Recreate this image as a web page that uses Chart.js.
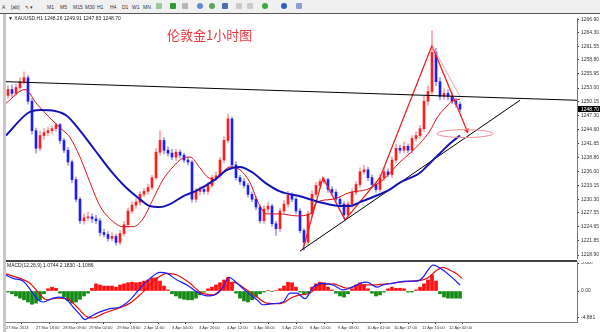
<!DOCTYPE html>
<html>
<head>
<meta charset="utf-8">
<script src="https://cdn.jsdelivr.net/npm/chart.js@4.4.1/dist/chart.umd.min.js"></script>
<style>
  html, body { margin: 0; padding: 0; background: #fff; }
  body { width: 600px; height: 332px; position: relative; overflow: hidden; font-family: "Liberation Sans", sans-serif; }
  #bar { position: absolute; left: 0; top: 0; width: 600px; height: 13px; background: #f0f0f0; border-bottom: 1px solid #555; font-size: 5px; color: #333; }
  #bar span { position: absolute; top: 4px; }
  #bar i { position: absolute; top: 3px; width: 6px; height: 6px; border-radius: 1px; }
  #frame { position: absolute; left: 3px; top: 14px; width: 3px; height: 318px; background: #c8c8c8; }
  #main { position: absolute; left: 0; top: 14px; }
  #macd { position: absolute; left: 0; top: 262px; }
  #sep { position: absolute; left: 6px; top: 260px; width: 571px; height: 2px; background: #444; }
  .txt { position: absolute; font-size: 5px; color: #222; white-space: nowrap; }
  #title { position: absolute; left: 167px; top: 25px; font-size: 13px; color: #e8383d; font-family: "Noto Sans CJK SC", sans-serif; }
</style>
</head>
<body>
<div id="bar">
  <span style="left:2px">A</span><span style="left:11px">[ab]</span><span style="left:25px">↖ ▾</span>
  <span style="left:47px">M1</span><span style="left:60px">M5</span><span style="left:73px">M15</span><span style="left:85px">M30</span>
  <span style="left:97px">H1</span><span style="left:110px">H4</span><span style="left:122px">D1</span><span style="left:132px">W1</span><span style="left:143px">MN</span>
  <i style="left:156px;background:#9bc59b"></i><i style="left:170px;background:#2e9a2e"></i><i style="left:182px;background:#b5b5b5"></i>
  <i style="left:197px;background:#5a8ad6;border-radius:3px"></i><i style="left:209px;background:#5aa35a;border-radius:3px"></i><i style="left:222px;background:#4a6fb0"></i>
  <i style="left:236px;background:#c9c9c9"></i><i style="left:247px;background:#c9c9c9"></i>
  <i style="left:262px;background:#3aa83a;border-radius:3px"></i><i style="left:281px;background:#2c5fc0;border-radius:3px"></i><i style="left:296px;background:#8aa0d0"></i>
</div>
<div id="frame"></div>
<canvas id="main" width="600" height="248"></canvas>
<canvas id="macd" width="600" height="70"></canvas>
<div id="sep"></div>
<div class="txt" style="left:8px;top:15px">▼ XAUUSD,H1 1248.26 1249.91 1247.83 1248.70</div>
<div id="title">伦敦金1小时图</div>
<div class="txt" style="left:7px;top:262px">MACD(12,26,9) 1.0744 2.1830 -1.1086</div>
<script>
// hourly gold candles, one entry per bar
const opens = [1251.5,1252.7,1251.9,1253.1,1254.3,1255.1,1250.3,1244.3,1240.7,1243.3,1243.9,1244.3,1244.7,1245.5,1242.3,1240.3,1237.9,1234.3,1230.3,1225.9,
  1226.5,1226.7,1226.3,1225.9,1223.5,1223.1,1222.3,1222.7,1221.5,1223.3,1225.1,1227.9,1229.1,1229.7,1231.3,1231.9,1232.7,1234.7,1239.9,1242.3,
  1240.3,1239.7,1238.9,1239.9,1239.3,1238.3,1237.9,1230.3,1231.9,1232.3,1231.9,1233.1,1234.7,1235.1,1238.3,1242.3,1246.7,1237.3,1234.7,1233.9,
  1233.1,1231.3,1230.3,1228.7,1225.9,1228.3,1228.9,1225.3,1224.3,1227.9,1229.3,1231.1,1230.3,1227.9,1223.9,1221.5,1227.3,1231.3,1233.1,1233.9,
  1234.3,1232.3,1231.7,1230.3,1229.3,1227.1,1229.3,1231.7,1233.3,1235.9,1236.3,1234.7,1233.3,1232.3,1234.7,1235.9,1235.3,1238.3,1240.7,1240.3,
  1241.1,1240.3,1242.7,1243.3,1244.7,1250.3,1252.3,1260.3,1254.3,1251.3,1251.9,1251.3,1250.3,1249.7];
const highs = [1253.5,1253.6,1253.8,1255.1,1256.3,1255.6,1250.9,1244.8,1244.2,1244.7,1245.0,1245.3,1245.9,1245.8,1242.8,1240.9,1238.3,1234.8,1230.7,1227.3,
  1227.6,1227.3,1227.0,1226.4,1224.2,1223.7,1223.5,1223.2,1223.9,1225.8,1228.5,1229.8,1230.5,1231.8,1232.5,1233.4,1235.2,1240.7,1244.3,1242.9,
  1241.0,1240.5,1240.5,1240.4,1239.7,1238.9,1238.2,1232.6,1232.9,1233.0,1233.7,1235.2,1235.9,1238.9,1243.1,1247.7,1247.1,1238.0,1235.2,1234.5,
  1233.5,1231.8,1230.9,1229.1,1229.0,1229.7,1229.3,1225.8,1228.5,1230.0,1231.9,1231.6,1230.7,1228.4,1224.3,1227.9,1232.0,1233.7,1234.4,1234.7,
  1234.6,1232.9,1232.2,1230.7,1229.8,1229.9,1232.4,1233.9,1236.7,1237.2,1236.8,1235.3,1233.8,1235.4,1236.7,1236.5,1239.0,1241.5,1241.3,1242.0,
  1241.6,1243.3,1244.1,1245.4,1251.3,1253.5,1264.7,1261.1,1255.2,1252.9,1252.7,1252.0,1250.9,1250.2];
const lows = [1250.9,1251.2,1251.4,1252.5,1253.8,1249.7,1243.6,1239.7,1240.2,1242.5,1243.3,1243.6,1244.2,1241.7,1239.8,1237.2,1233.7,1229.8,1225.3,1225.2,
  1225.9,1225.5,1225.3,1222.8,1222.6,1221.7,1221.8,1220.9,1221.0,1222.8,1224.5,1227.4,1228.4,1229.1,1230.8,1231.3,1232.2,1234.3,1239.3,1239.6,
  1239.1,1238.4,1238.2,1238.7,1237.8,1237.3,1229.7,1229.7,1231.2,1231.4,1231.3,1232.6,1234.1,1234.6,1237.7,1241.8,1236.7,1234.2,1233.3,1232.6,
  1230.7,1229.8,1228.1,1225.4,1225.3,1227.6,1224.7,1222.9,1223.7,1227.4,1228.7,1229.8,1227.3,1223.4,1219.9,1221.0,1226.7,1230.8,1232.5,1233.4,
  1231.7,1231.2,1229.7,1228.8,1226.3,1226.6,1228.7,1231.2,1232.7,1235.4,1234.1,1232.8,1231.7,1231.8,1234.1,1234.8,1234.7,1237.8,1239.7,1239.8,
  1239.7,1239.8,1242.1,1242.8,1244.1,1249.5,1251.7,1253.5,1250.6,1250.7,1250.6,1249.8,1249.1,1248.2];
const closes = [1252.7,1251.9,1253.1,1254.3,1255.1,1250.3,1244.3,1240.7,1243.3,1243.9,1244.3,1244.7,1245.5,1242.3,1240.3,1237.9,1234.3,1230.3,1225.9,1226.5,
  1226.7,1226.3,1225.9,1223.5,1223.1,1222.3,1222.7,1221.5,1223.3,1225.1,1227.9,1229.1,1229.7,1231.3,1231.9,1232.7,1234.7,1239.9,1242.3,1240.3,
  1239.7,1238.9,1239.9,1239.3,1238.3,1237.9,1230.3,1231.9,1232.3,1231.9,1233.1,1234.7,1235.1,1238.3,1242.3,1246.7,1237.3,1234.7,1233.9,1233.1,
  1231.3,1230.3,1228.7,1225.9,1228.3,1228.9,1225.3,1224.3,1227.9,1229.3,1231.1,1230.3,1227.9,1223.9,1221.5,1227.3,1231.3,1233.1,1233.9,1234.3,
  1232.3,1231.7,1230.3,1229.3,1227.1,1229.3,1231.7,1233.3,1235.9,1236.3,1234.7,1233.3,1232.3,1234.7,1235.9,1235.3,1238.3,1240.7,1240.3,1241.1,
  1240.3,1242.7,1243.3,1244.7,1250.3,1252.3,1260.3,1254.3,1251.3,1251.9,1251.3,1250.3,1249.7,1248.7];

// moving averages, [bar, price]
const slowMA = [[-0.5,1243.3],[5,1247.9],[8,1248.5],[11.75,1248.3],[14.75,1247.3],[18,1244.3],[21.75,1240.3],[25.5,1236.3],[29.25,1232.9],[33,1230.3],
  [35.5,1228.9],[38,1228.7],[40.5,1229.3],[43.75,1230.9],[46.75,1231.9],[51.75,1234.3],[54.75,1236.3],[58,1236.9],[61.25,1235.7],[64.25,1233.7],
  [68,1231.9],[73,1230.9],[78,1229.7],[83,1228.9],[85.5,1228.9],[88,1229.7],[91.75,1230.9],[95.5,1232.3],[98,1233.7],[103,1235.7],[105.5,1237.7],
  [108,1239.7],[110.5,1241.7],[113,1243.3]];
const fastMA = [[-0.5,1249.9],[4.25,1252.7],[7.25,1249.7],[10.5,1246.9],[13,1244.9],[15.5,1242.9],[18,1238.9],[20.5,1233.7],[23,1228.9],[25.5,1226.3],
  [28.75,1224.7],[31.25,1224.7],[33.75,1226.3],[36.25,1230.3],[38.75,1234.3],[41.25,1236.9],[43.75,1238.7],[45.5,1238.9],[48,1236.7],[49.75,1234.9],
  [51.75,1234.3],[53.5,1235.7],[55.5,1236.9],[58,1236.3],[60.5,1233.7],[62.5,1229.7],[64.75,1227.3],[68,1227.3],[72.25,1226.9],[75.5,1227.3],
  [77.25,1229.7],[81.25,1230.3],[85.5,1231.7],[89.75,1232.3],[93.75,1234.3],[98,1237.9],[100.5,1239.7],[103,1241.7],[105.5,1244.3],[107.25,1246.9],
  [109.25,1248.9],[111,1250.3],[113,1250.7]];

// hand drawn lines
const resistLine = [[-0.5,1254.3],[142.25,1250.5]];
const supportLine = [[73,1219.7],[128,1250.5]];
const zigzag = [[73.75,1220.1],[78.75,1234.7],[84.25,1226.1],[93,1234.7],[106,1261.7]];
const dropLine = [[106,1261.7],[113,1251.3]];
const arrowLine = [[106,1261.7],[114.75,1244.3]];
const ellipses = [[114.25,1243.7,7,0.8]]; // centre bar, centre price, half width (bars), half height (price)

// MACD panel
const macdHist = [-0.2,-0.5,-0.9,-1.3,-1.6,-2.0,-2.4,-2.2,-1.6,-0.5,0.4,0.7,0.5,-0.4,-1.1,-1.8,-2.2,-2.0,-1.5,-0.9,
  -0.4,0.5,1.3,1.1,0.9,0.9,0.9,0.7,1.1,1.3,1.5,1.6,1.5,1.6,1.8,2.0,2.4,2.4,1.8,0.9,
  0.2,-0.5,-0.9,-1.3,-1.5,-1.6,-1.6,-1.3,-0.7,-0.2,0.4,0.7,1.1,1.5,2.0,2.5,1.5,-0.4,-1.3,-1.8,
  -2.0,-1.6,-1.1,-0.5,-0.2,0.1,-0.1,0.1,0.4,0.9,1.6,1.5,0.7,-0.2,-0.7,-0.4,0.7,1.3,1.6,1.5,
  0.7,0.2,-0.4,-0.9,-1.1,-0.5,0.4,1.1,1.5,1.1,0.4,-0.4,-0.9,-0.7,-0.2,0.4,0.7,0.5,0.5,0.4,
  -0.2,-0.2,0.2,0.7,1.3,2.0,2.9,1.8,-0.5,-1.1,-1.3,-1.3,-1.3,-1.3];
const macdMain = [[-0.5,2.9],[1.25,2.3],[3.75,1.8],[6.25,-0.4],[7.5,-1.6],[8.75,-2.0],[11.25,-1.3],[13,-1.1],[14.75,-1.6],[16.25,-2.9],
  [18,-4.3],[19.25,-5.2],[20.5,-4.7],[23,-3.8],[25.5,-3.2],[28,-2.9],[30.5,-1.6],[33,0.5],[35.5,2.3],[38,3.4],
  [39.75,3.2],[42.25,2.0],[44.75,1.1],[47.25,-0.2],[49.75,-0.9],[52.25,-0.5],[53.75,0.7],[55.25,2.5],[57.25,1.4],[59.75,-0.2],
  [62.25,-1.6],[63.75,-2.5],[66.25,-2.3],[68.75,-2.0],[70.5,-0.4],[72.25,-0.4],[74.25,-1.4],[76.25,0.7],[78.75,1.4],[81.25,1.1],
  [83.75,0.2],[85.5,0.5],[88,1.4],[89.75,1.6],[92.25,0.7],[93.75,1.1],[96.25,1.4],[99.75,1.8],[102.25,1.8],[103.75,2.5],
  [105,3.8],[106.25,4.7],[107.25,4.5],[108.75,3.8],[111.25,2.3],[113,1.1]];
const macdSignal = [[-0.5,3.1],[3,2.3],[5.5,1.4],[7.5,-0.2],[9.75,-1.6],[12.25,-1.3],[14.75,-1.4],[17.25,-2.9],[19.75,-4.7],[21.25,-4.9],
  [23.75,-4.1],[27.25,-3.2],[30.5,-2.2],[33.75,-0.2],[37.25,2.3],[39.75,3.2],[42.25,2.9],[45.5,1.4],[48,-0.2],[51.25,-0.7],
  [53.75,0.5],[56.25,1.6],[58.75,0.7],[62.25,-1.1],[64.75,-2.2],[68,-2.3],[71.25,-1.1],[73,-0.7],[75.5,-0.4],[78,1.1],
  [81.25,1.3],[84.75,0.5],[88,1.1],[91.25,1.1],[94.75,1.3],[98,1.6],[101.25,1.8],[104.75,2.3],[107.25,3.8],[108.75,4.3],
  [110.5,3.8],[112.25,3.1],[113.5,2.3]];

// axes
const priceTicks = [1266.90,1264.30,1261.55,1258.80,1255.95,1253.00,1250.15,1247.30,1244.60,1241.65,1238.80,1236.00,1233.15,1230.30,1227.55,1224.65,1221.85,1218.90];
const macdTicks = [5.087,0,-4.881];
const macdTickText = ['5.087','0.00','-4.881'];
const dateTicks = [-0.5,7,13.75,20.25,27.25,34,41,47.75,54.75,61.5,68.5,75.5,82.5,89.75,96.5,103.5,110.25];
const dateLabels = ['27 Mar 2013','27 Mar 18:00','28 Mar 09:00','29 Mar 02:00','29 Mar 18:00','2 Apr 11:00','3 Apr 04:00','3 Apr 20:00',
  '4 Apr 12:00','5 Apr 06:00','5 Apr 22:00','8 Apr 15:00','9 Apr 08:00','10 Apr 01:00','10 Apr 17:00','11 Apr 10:00','12 Apr 02:00'];

const xMin = -0.5, xMax = 142.25;
const axisFont = { family: 'Liberation Sans', size: 5 };
const pts = arr => arr.map(p => ({ x: p[0], y: p[1] }));
const idx = closes.map((_, i) => i);
const up = idx.map(i => closes[i] >= opens[i]);

const fitY = s => { s.width = 23; s.paddingTop = 0; s.paddingBottom = 0; };
const line = (data, color, width, extra) => Object.assign({
  type: 'line', data: pts(data), borderColor: color, borderWidth: width,
  pointRadius: 0, tension: 0, order: 0
}, extra || {});

const ellipsePlugin = {
	id: 'ellipse',
	afterDatasetsDraw(c) {
		const { ctx, scales: { x, y } } = c;
		ellipses.forEach(e => {
			const cx = x.getPixelForValue(e[0]), cy = y.getPixelForValue(e[1]);
			const rx = Math.abs(x.getPixelForValue(e[0] + e[2]) - cx);
			const ry = Math.abs(y.getPixelForValue(e[1] + e[3]) - cy);
			ctx.save();
			ctx.strokeStyle = '#f08a8a';
			ctx.lineWidth = 1;
			ctx.beginPath();
			ctx.ellipse(cx, cy, rx, ry, 0, 0, Math.PI * 2);
			ctx.stroke();
			ctx.restore();
		});
	}
};

// black label with the last close on the price axis
const lastPricePlugin = {
	id: 'lastPrice',
	afterDraw(c) {
		const { ctx, scales: { y }, chartArea } = c;
		const v = closes[closes.length - 1];
		const py = Math.round(y.getPixelForValue(v));
		ctx.save();
		ctx.fillStyle = '#000';
		ctx.fillRect(chartArea.right + 1, py - 3, 22, 6);
		ctx.fillStyle = '#fff';
		ctx.font = '5px "Liberation Sans"';
		ctx.textBaseline = 'middle';
		ctx.fillText(v.toFixed(2), chartArea.right + 4, py + 0.5);
		ctx.restore();
	}
};

new Chart(document.getElementById('main'), {
	data: {
		datasets: [
			{ type: 'bar', data: idx.map(i => ({ x: i, y: [lows[i], highs[i]] })), backgroundColor: idx.map(i => up[i] ? '#ffa0a0' : '#9c9cff'),
				barThickness: 1, grouped: false, order: 3 },
			{ type: 'bar', data: idx.map(i => ({ x: i, y: [opens[i], closes[i]] })), backgroundColor: idx.map(i => up[i] ? '#ff1c1c' : '#1c1cff'),
				barThickness: 2, minBarLength: 1, grouped: false, order: 2 },
			line(slowMA, '#1414b4', 2, { cubicInterpolationMode: 'monotone' }),
			line(fastMA, '#e01010', 1, { cubicInterpolationMode: 'monotone' }),
			line(resistLine, '#000', 1),
			line(supportLine, '#000', 1),
			line(zigzag, '#f02020', 1.3),
			line(dropLine, '#f4a0a0', 1),
			line(arrowLine, '#f02020', 1.3, { pointRadius: [0, 3], pointStyle: 'triangle', pointRotation: [0, 158],
				pointBackgroundColor: '#f02020', pointBorderWidth: 0 })
		]
	},
	options: {
		responsive: false,
		animation: false,
		layout: { padding: { left: 6, top: 1, bottom: 2, right: 0 } },
		plugins: { legend: { display: false }, tooltip: { enabled: false } },
		scales: {
			x: { type: 'linear', min: xMin, max: xMax, offset: false, display: false },
			y: {
				position: 'right', min: 1218.3, max: 1267.3, afterFit: fitY,
				afterBuildTicks: s => { s.ticks = priceTicks.map(v => ({ value: v })); },
				ticks: { font: axisFont, color: '#333', padding: 2, callback: v => v.toFixed(2) },
				grid: { drawOnChartArea: false, tickLength: 2, color: '#333' },
				border: { color: '#777' }
			}
		}
	},
	plugins: [ellipsePlugin, lastPricePlugin]
});

new Chart(document.getElementById('macd'), {
	data: {
		datasets: [
			{ type: 'bar', data: idx.map(i => ({ x: i, y: macdHist[i] })), backgroundColor: macdHist.map(v => v >= 0 ? '#ff1010' : '#108a10'),
				barThickness: 3, order: 2 },
			line(macdMain, '#1c1cff', 1.2, { cubicInterpolationMode: 'monotone' }),
			line(macdSignal, '#e81010', 1.2, { cubicInterpolationMode: 'monotone' })
		]
	},
	options: {
		responsive: false,
		animation: false,
		layout: { padding: { left: 6, top: 0, bottom: 0, right: 0 } },
		plugins: { legend: { display: false }, tooltip: { enabled: false } },
		scales: {
			x: {
				type: 'linear', min: xMin, max: xMax, offset: false,
				afterFit: s => { s.height = 10; s.paddingLeft = 0; s.paddingRight = 0; },
				afterBuildTicks: s => { s.ticks = dateTicks.map(v => ({ value: v })); },
				ticks: { autoSkip: false, maxRotation: 0, align: 'start', font: { family: 'Liberation Sans', size: 4 }, color: '#333', padding: 1,
					callback: (v, i) => dateLabels[i] },
				grid: { drawOnChartArea: false, tickLength: 2, color: '#333' },
				border: { color: '#777' }
			},
			y: {
				position: 'right', min: -5.63, max: 5.27, afterFit: fitY,
				afterBuildTicks: s => { s.ticks = macdTicks.map(v => ({ value: v })); },
				ticks: { font: axisFont, color: '#333', padding: 2, callback: (v, i) => macdTickText[i] },
				grid: { drawOnChartArea: false, tickLength: 2, color: '#333' },
				border: { color: '#777' }
			}
		}
	}
});
</script>
</body>
</html>
